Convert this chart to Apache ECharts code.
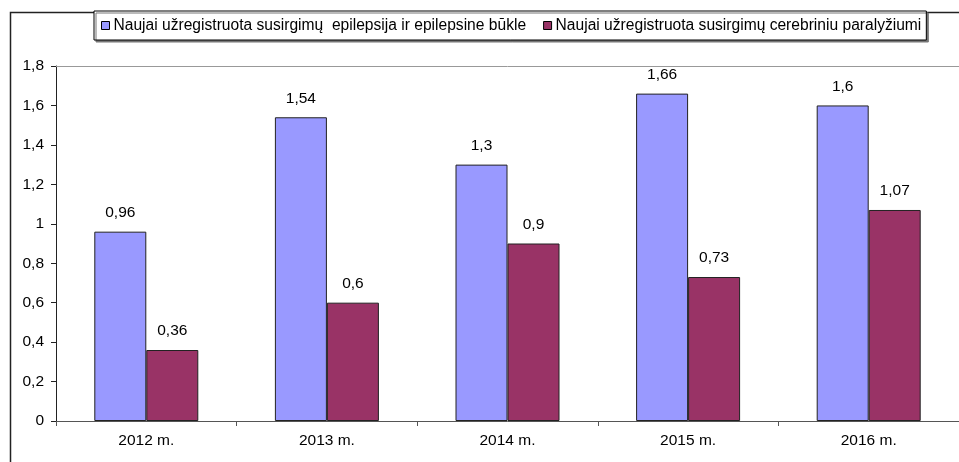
<!DOCTYPE html>
<html>
<head>
<meta charset="utf-8">
<script src="https://cdn.jsdelivr.net/npm/echarts@6/dist/echarts.min.js"></script>
<style>
  html, body { margin: 0; padding: 0; background: #fff; }
  #chart { width: 959px; height: 462px; }
</style>
</head>
<body>
<div id="chart"></div>
<script>
// duomenys
const years = ["2012 m.", "2013 m.", "2014 m.", "2015 m.", "2016 m."];
const epilepsija = [0.96, 1.54, 1.3, 1.66, 1.6];
const paralyzius = [0.36, 0.6, 0.9, 0.73, 1.07];
const seriesNames = [
  "Naujai užregistruota susirgimų  epilepsija ir epilepsine būkle",
  "Naujai užregistruota susirgimų cerebriniu paralyžiumi"
];

const FONT = "Liberation Sans, Arial, sans-serif";
const FS = 15.5;
const comma = v => String(v).replace(".", ",");

const chart = echarts.init(document.getElementById("chart"));

chart.setOption({
  animation: false,
  textStyle: { fontFamily: FONT },
  graphic: [
    // išorinis rėmelis
    {
      type: "rect", left: 8, top: 10, silent: true,
      shape: { width: 1000, height: 1000 },
      style: { fill: "none", stroke: "#222", lineWidth: 1.5 }
    }
  ],
  legend: {
    top: 11,
    left: 94,
    icon: "rect",
    itemWidth: 8,
    itemHeight: 8,
    itemGap: 17,
    padding: [6, 5, 6, 7],
    backgroundColor: "#fff",
    borderColor: "#000",
    borderWidth: 1,
    shadowColor: "#777",
    shadowBlur: 0,
    shadowOffsetX: 2,
    shadowOffsetY: 2,
    textStyle: {
      fontFamily: FONT, fontSize: 15.6, color: "#000",
      lineHeight: 17, padding: [0, 0, 0, -1]
    },
    data: seriesNames.map(n => ({ name: n, itemStyle: { borderColor: "#000", borderWidth: 1 } }))
  },
  grid: { left: 56, top: 66, right: -2, bottom: 41 },
  xAxis: {
    type: "category",
    data: years,
    axisLine: { lineStyle: { color: "#555", width: 1 } },
    axisTick: { show: true, length: 5, lineStyle: { color: "#555" } },
    axisLabel: { color: "#000", fontSize: FS, fontFamily: FONT, margin: 12 },
    splitLine: { show: false }
  },
  yAxis: {
    type: "value",
    min: 0,
    max: 1.8,
    interval: 0.2,
    axisLine: { show: true, lineStyle: { color: "#222", width: 1 } },
    axisTick: { show: true, length: 5, lineStyle: { color: "#222" } },
    axisLabel: {
      color: "#000", fontSize: FS, fontFamily: FONT, margin: 12,
      formatter: v => comma(Math.round(v * 10) / 10)
    },
    splitLine: { show: false }
  },
  series: [
    {
      name: seriesNames[0],
      type: "bar",
      data: epilepsija,
      barWidth: 52,
      barGap: "0%",
      itemStyle: { color: "#9999FF", borderColor: "#222", borderWidth: 1 },
      label: {
        show: true, position: "top", distance: 11,
        color: "#000", fontSize: FS, fontFamily: FONT,
        formatter: p => comma(p.value)
      },
      markLine: {
        silent: true, symbol: "none", label: { show: false },
        lineStyle: { color: "#999", type: "solid", width: 1 },
        data: [{ yAxis: 1.8 }]
      }
    },
    {
      name: seriesNames[1],
      type: "bar",
      data: paralyzius,
      barWidth: 52,
      barGap: "0%",
      itemStyle: { color: "#993366", borderColor: "#222", borderWidth: 1 },
      label: {
        show: true, position: "top", distance: 11,
        color: "#000", fontSize: FS, fontFamily: FONT,
        formatter: p => comma(p.value)
      }
    }
  ]
});
</script>
</body>
</html>
